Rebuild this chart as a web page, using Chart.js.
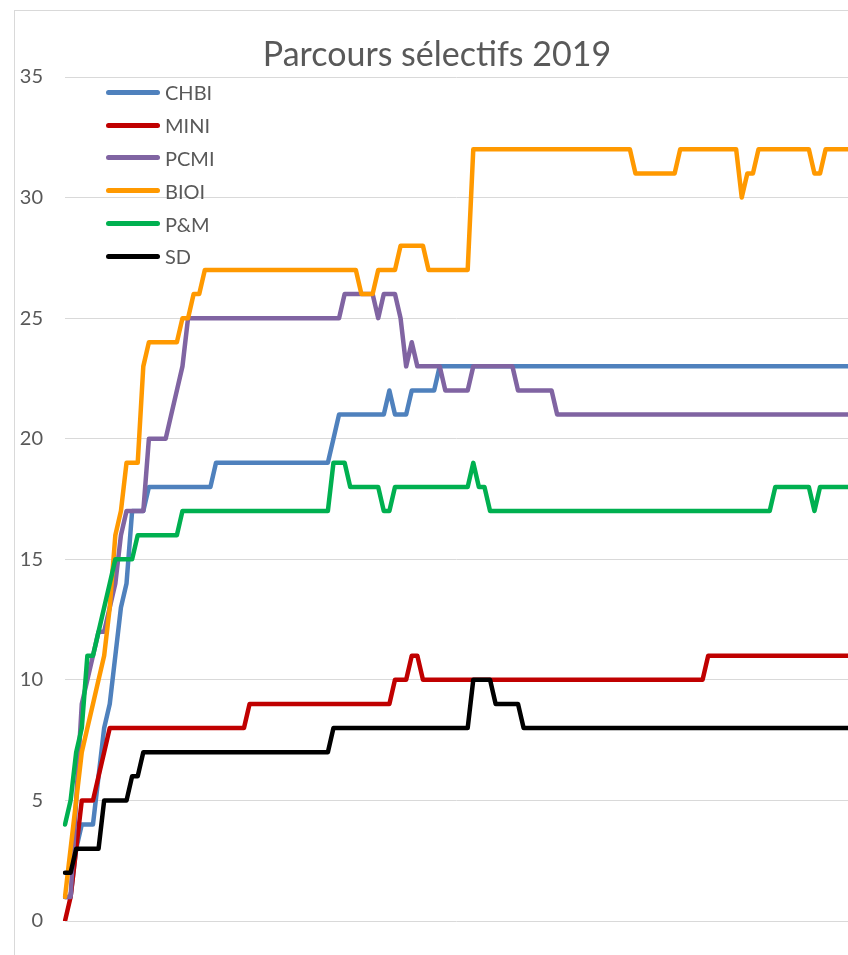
<!DOCTYPE html>
<html>
<head>
<meta charset="utf-8">
<script src="https://cdn.jsdelivr.net/npm/chart.js@4.4.1/dist/chart.umd.min.js"></script>
<style>
  html, body { margin: 0; padding: 0; overflow: hidden; background: #fff; }
  #frame { position: absolute; left: 14px; top: 10px; width: 900px; height: 1000px; border: 1px solid #d9d9d9; }
  #wrap { position: absolute; left: 0; top: 0; width: 848px; height: 955px; }
  #title { position: absolute; left: 0; top: 36px; width: 874px; text-align: center;
    font-family: Lato, sans-serif; font-size: 34px; line-height: 34px; color: #595959; }
  #legend { position: absolute; left: 106px; top: 76px; }
  .row { display: flex; align-items: center; height: 32.8px; }
  .swatch { width: 54px; height: 5px; border-radius: 3px; margin-right: 5px; }
  .row span { font-family: Lato, sans-serif; font-size: 20px; color: #595959; }
</style>
</head>
<body>
<div id="frame"></div>
<div id="wrap"><canvas id="chart"></canvas></div>
<div id="title">Parcours sélectifs 2019</div>
<div id="legend"></div>
<script>
const seriesNames = ['CHBI', 'MINI', 'PCMI', 'BIOI', 'P&M', 'SD'];
const seriesColors = ['#4f81bd', '#c00000', '#8064a2', '#ff9900', '#00b050', '#000000'];
const yTicks = [0, 5, 10, 15, 20, 25, 30, 35];

// one point per step, x labels are not visible in the picture
const steps = Array.from({ length: 141 }, (_, i) => i + 1);

const chbi = [
  1, 1, 3, 4, 4, 4, 6, 8, 9, 11, 13, 14, 17, 17, 17, 18, 18, 18, 18, 18,
  18, 18, 18, 18, 18, 18, 18, 19, 19, 19, 19, 19, 19, 19, 19, 19, 19, 19, 19, 19,
  19, 19, 19, 19, 19, 19, 19, 19, 20, 21, 21, 21, 21, 21, 21, 21, 21, 21, 22, 21,
  21, 21, 22, 22, 22, 22, 22, 23, 23, 23, 23, 23, 23, 23, 23, 23, 23, 23, 23, 23,
  23, 23, 23, 23, 23, 23, 23, 23, 23, 23, 23, 23, 23, 23, 23, 23, 23, 23, 23, 23,
  23, 23, 23, 23, 23, 23, 23, 23, 23, 23, 23, 23, 23, 23, 23, 23, 23, 23, 23, 23,
  23, 23, 23, 23, 23, 23, 23, 23, 23, 23, 23, 23, 23, 23, 23, 23, 23, 23, 23, 23,
  23
];
const mini = [
  0, 1, 3, 5, 5, 5, 6, 7, 8, 8, 8, 8, 8, 8, 8, 8, 8, 8, 8, 8,
  8, 8, 8, 8, 8, 8, 8, 8, 8, 8, 8, 8, 8, 9, 9, 9, 9, 9, 9, 9,
  9, 9, 9, 9, 9, 9, 9, 9, 9, 9, 9, 9, 9, 9, 9, 9, 9, 9, 9, 10,
  10, 10, 11, 11, 10, 10, 10, 10, 10, 10, 10, 10, 10, 10, 10, 10, 10, 10, 10, 10,
  10, 10, 10, 10, 10, 10, 10, 10, 10, 10, 10, 10, 10, 10, 10, 10, 10, 10, 10, 10,
  10, 10, 10, 10, 10, 10, 10, 10, 10, 10, 10, 10, 10, 10, 10, 11, 11, 11, 11, 11,
  11, 11, 11, 11, 11, 11, 11, 11, 11, 11, 11, 11, 11, 11, 11, 11, 11, 11, 11, 11,
  11
];
const pcmi = [
  1, 1, 5, 9, 10, 11, 12, 12, 13, 14, 16, 17, 17, 17, 17, 20, 20, 20, 20, 21,
  22, 23, 25, 25, 25, 25, 25, 25, 25, 25, 25, 25, 25, 25, 25, 25, 25, 25, 25, 25,
  25, 25, 25, 25, 25, 25, 25, 25, 25, 25, 26, 26, 26, 26, 26, 26, 25, 26, 26, 26,
  25, 23, 24, 23, 23, 23, 23, 23, 22, 22, 22, 22, 22, 23, 23, 23, 23, 23, 23, 23,
  23, 22, 22, 22, 22, 22, 22, 22, 21, 21, 21, 21, 21, 21, 21, 21, 21, 21, 21, 21,
  21, 21, 21, 21, 21, 21, 21, 21, 21, 21, 21, 21, 21, 21, 21, 21, 21, 21, 21, 21,
  21, 21, 21, 21, 21, 21, 21, 21, 21, 21, 21, 21, 21, 21, 21, 21, 21, 21, 21, 21,
  21
];
const bioi = [
  1, 3, 5, 7, 8, 9, 10, 11, 13, 16, 17, 19, 19, 19, 23, 24, 24, 24, 24, 24,
  24, 25, 25, 26, 26, 27, 27, 27, 27, 27, 27, 27, 27, 27, 27, 27, 27, 27, 27, 27,
  27, 27, 27, 27, 27, 27, 27, 27, 27, 27, 27, 27, 27, 26, 26, 26, 27, 27, 27, 27,
  28, 28, 28, 28, 28, 27, 27, 27, 27, 27, 27, 27, 27, 32, 32, 32, 32, 32, 32, 32,
  32, 32, 32, 32, 32, 32, 32, 32, 32, 32, 32, 32, 32, 32, 32, 32, 32, 32, 32, 32,
  32, 32, 31, 31, 31, 31, 31, 31, 31, 31, 32, 32, 32, 32, 32, 32, 32, 32, 32, 32,
  32, 30, 31, 31, 32, 32, 32, 32, 32, 32, 32, 32, 32, 32, 31, 31, 32, 32, 32, 32,
  32
];
const pm = [
  4, 5, 7, 8, 11, 11, 12, 13, 14, 15, 15, 15, 15, 16, 16, 16, 16, 16, 16, 16,
  16, 17, 17, 17, 17, 17, 17, 17, 17, 17, 17, 17, 17, 17, 17, 17, 17, 17, 17, 17,
  17, 17, 17, 17, 17, 17, 17, 17, 19, 19, 19, 18, 18, 18, 18, 18, 18, 17, 17, 18,
  18, 18, 18, 18, 18, 18, 18, 18, 18, 18, 18, 18, 18, 19, 18, 18, 17, 17, 17, 17,
  17, 17, 17, 17, 17, 17, 17, 17, 17, 17, 17, 17, 17, 17, 17, 17, 17, 17, 17, 17,
  17, 17, 17, 17, 17, 17, 17, 17, 17, 17, 17, 17, 17, 17, 17, 17, 17, 17, 17, 17,
  17, 17, 17, 17, 17, 17, 17, 18, 18, 18, 18, 18, 18, 18, 17, 18, 18, 18, 18, 18,
  18
];
const sd = [
  2, 2, 3, 3, 3, 3, 3, 5, 5, 5, 5, 5, 6, 6, 7, 7, 7, 7, 7, 7,
  7, 7, 7, 7, 7, 7, 7, 7, 7, 7, 7, 7, 7, 7, 7, 7, 7, 7, 7, 7,
  7, 7, 7, 7, 7, 7, 7, 7, 8, 8, 8, 8, 8, 8, 8, 8, 8, 8, 8, 8,
  8, 8, 8, 8, 8, 8, 8, 8, 8, 8, 8, 8, 8, 10, 10, 10, 10, 9, 9, 9,
  9, 9, 8, 8, 8, 8, 8, 8, 8, 8, 8, 8, 8, 8, 8, 8, 8, 8, 8, 8,
  8, 8, 8, 8, 8, 8, 8, 8, 8, 8, 8, 8, 8, 8, 8, 8, 8, 8, 8, 8,
  8, 8, 8, 8, 8, 8, 8, 8, 8, 8, 8, 8, 8, 8, 8, 8, 8, 8, 8, 8,
  8
];

const seriesValues = [chbi, mini, pcmi, bioi, pm, sd];

// later series drawn on top, like the spreadsheet
const datasets = seriesNames.map((name, i) => ({
  label: name,
  data: seriesValues[i],
  borderColor: seriesColors[i],
  backgroundColor: seriesColors[i],
  order: seriesNames.length - 1 - i
}));

new Chart(document.getElementById('chart'), {
  type: 'line',
  data: { labels: steps, datasets },
  options: {
    responsive: true,
    maintainAspectRatio: false,
    animation: false,
    layout: { padding: { top: 77, bottom: 34, left: 0, right: 0 } },
    elements: {
      point: { radius: 0, hoverRadius: 0 },
      line: { borderWidth: 4.5, tension: 0, borderCapStyle: 'round', borderJoinStyle: 'round', fill: false }
    },
    plugins: {
      legend: { display: false },
      title: { display: false },
      tooltip: { enabled: false }
    },
    scales: {
      x: { display: false, offset: false },
      y: {
        min: 0,
        max: 35,
        afterBuildTicks: scale => { scale.ticks = yTicks.map(v => ({ value: v })); },
        afterFit: scale => { scale.width = 65; },
        ticks: { padding: 22, color: '#595959', font: { family: 'Lato', size: 20 } },
        grid: { color: '#d9d9d9', lineWidth: 1, drawTicks: false },
        border: { display: false }
      }
    }
  }
});

// legend inside the plot, top left
const legend = document.getElementById('legend');
seriesNames.forEach((name, i) => {
  const row = document.createElement('div');
  row.className = 'row';
  const sw = document.createElement('div');
  sw.className = 'swatch';
  sw.style.background = seriesColors[i];
  const txt = document.createElement('span');
  txt.textContent = name;
  row.appendChild(sw);
  row.appendChild(txt);
  legend.appendChild(row);
});
</script>
</body>
</html>
